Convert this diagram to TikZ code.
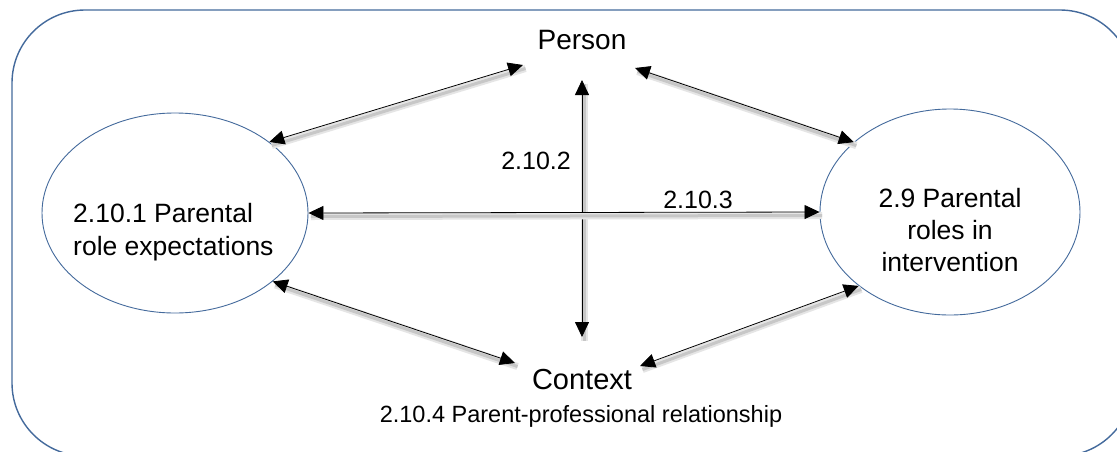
\documentclass[tikz,border=0pt]{standalone}
\usepackage{fontspec}
\setmainfont{Liberation Sans}
\usetikzlibrary{arrows.meta,shapes.geometric}
\definecolor{frameblue}{RGB}{68,106,156}
\tikzset{
  frame/.style={draw=frameblue, line width=1.4pt, rounded corners=73pt},
  topic/.style={ellipse, draw=frameblue, line width=0.9pt, inner sep=0pt},
  txt/.style={inner sep=0pt, text=black},
  big/.style={font=\fontsize{28}{34}\selectfont},
  mid/.style={font=\fontsize{26.5}{33}\selectfont},
  small/.style={font=\fontsize{23.5}{28}\selectfont},
  tip/.tip={Triangle[length=15pt,width=14pt]},
  link/.style={black, line width=0.8pt, tip-tip,
    preaction={draw=black!10, line width=7pt, arrows=-,
      transform canvas={shift={(2.5pt,-3.5pt)}}},
    preaction={draw=black!22, line width=3pt, arrows=-,
      transform canvas={shift={(2.5pt,-3.5pt)}}}}
}
\begin{document}
\begin{tikzpicture}[x=1pt,y=-1pt]
\useasboundingbox (0,0) rectangle (1117,451);
\clip (0,0) rectangle (1117,451);
\fill[white] (0,0) rectangle (1117,451);

% outer frame, running past the right and bottom edges
\draw[frame] (12,10) rectangle (1133,456);

% the two topic ellipses
\node[topic, minimum width=266pt, minimum height=200pt] (L) at (175,213) {};
\node[topic, minimum width=260pt, minimum height=206pt] (R) at (950,212) {};

% texts
\node[txt, big, anchor=base] (P) at (582,49) {Person};
\node[txt, big, font=\fontsize{29}{34}\selectfont, anchor=base] (C) at (582,389) {Context};
\node[txt, mid, align=left, anchor=west] (Lt) at (73,232) {2.10.1 Parental\\role expectations};
\node[txt, mid, align=center, font=\fontsize{26.5}{32}\selectfont] (Rt) at (950,230) {2.9 Parental\\roles in\\intervention};
\node[txt, font=\fontsize{25}{30}\selectfont, anchor=base] (n2) at (536,169) {2.10.2};
\node[txt, font=\fontsize{25}{30}\selectfont, anchor=base] (n3) at (698,208) {2.10.3};
\node[txt, small, anchor=base] (n4) at (581,422) {2.10.4 Parent-professional relationship};

% free ends of the connectors next to the two words
\coordinate (pl) at (523,65);
\coordinate (pr) at (635,68);
\coordinate (pv) at (582,80);
\coordinate (cv) at (582,337);
\coordinate (cl) at (515,363);
\coordinate (cr) at (640,366);

% connectors
\draw[link] (pl) -- (L.37);
\draw[link] (pr) -- (R.144.6);
\draw[link] (pv) -- (cv);
\draw[link] (L.0) -- (R.180);
\draw[link] (L.-35.8) -- (cl);
\draw[link] (R.-141.6) -- (cr);
\end{tikzpicture}
\end{document}
